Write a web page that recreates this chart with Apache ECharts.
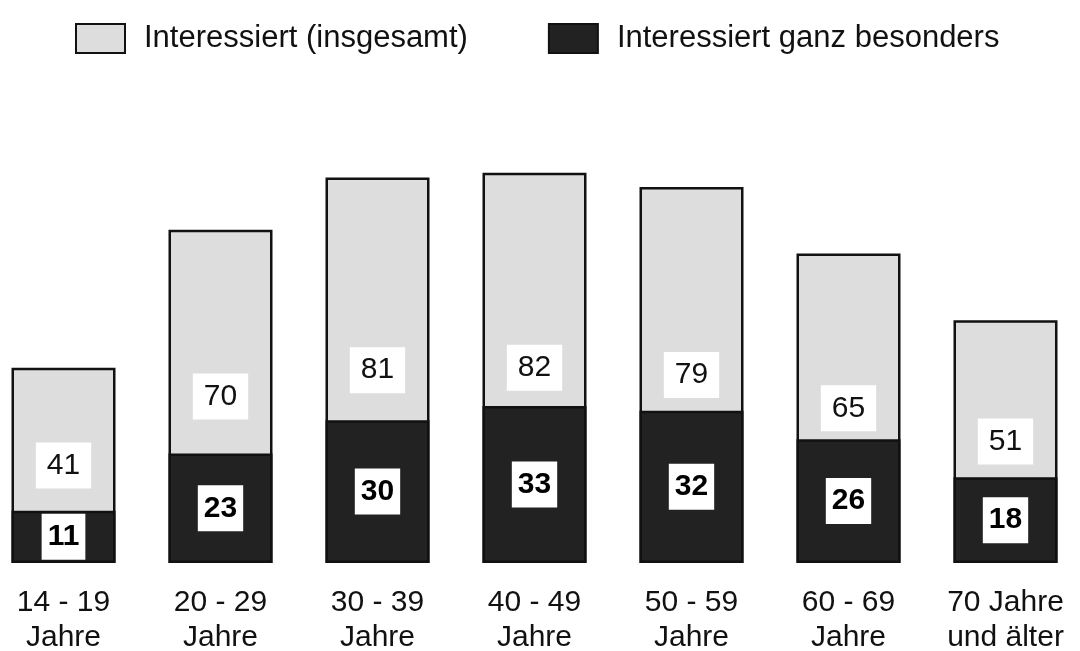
<!DOCTYPE html>
<html>
<head>
<meta charset="utf-8">
<style>
    html, body { margin: 0; padding: 0; background: #fff; }
    #main { width: 1080px; height: 651px; }
</style>
</head>
<body>
    <!-- Diagramm-Container -->
    <div id="main"></div>
<script src="https://cdn.jsdelivr.net/npm/echarts@6/dist/echarts.min.js"></script>
<script type="text/javascript">
    var categories = ['14 - 19\nJahre', '20 - 29\nJahre', '30 - 39\nJahre', '40 - 49\nJahre',
                      '50 - 59\nJahre', '60 - 69\nJahre', '70 Jahre\nund älter'];
    var insgesamt = [41, 70, 81, 82, 79, 65, 51];
    var besonders = [11, 23, 30, 33, 32, 26, 18];

    var myChart = echarts.init(document.getElementById('main'));
    var fontFamily = '"Liberation Sans", Arial, sans-serif';

    var option = {
        animation: false,
        textStyle: { fontFamily: fontFamily },
        legend: {
            top: 18,
            left: 70,
            icon: 'rect',
            itemWidth: 49,
            itemHeight: 29,
            itemGap: 80,
            textStyle: { fontSize: 31, color: '#111', fontFamily: fontFamily, padding: [0, 0, 0, 14] },
            data: ['Interessiert (insgesamt)', 'Interessiert ganz besonders']
        },
        grid: { left: -15, right: -4, top: 87, bottom: 88, outerBoundsMode: 'none', containLabel: false },
        xAxis: {
            type: 'category',
            data: categories,
            axisLine: { show: false },
            axisTick: { show: false },
            axisLabel: {
                margin: 22,
                fontSize: 30,
                lineHeight: 35,
                color: '#111',
                fontFamily: fontFamily
            }
        },
        yAxis: {
            type: 'value',
            min: 0,
            max: 100,
            show: false
        },
        series: [{
            name: 'Interessiert (insgesamt)',
            type: 'bar',
            data: insgesamt,
            barWidth: 104,
            itemStyle: { color: '#dddddd', borderColor: '#111', borderWidth: 2.5 },
            label: {
                show: true,
                position: 'inside',
                fontSize: 30,
                color: '#111',
                backgroundColor: '#fff',
                padding: [8, 11, 8, 11],
                fontFamily: fontFamily
            }
        }, {
            name: 'Interessiert ganz besonders',
            type: 'bar',
            data: besonders,
            barWidth: 104,
            barGap: '-100%',
            itemStyle: { color: '#222222', borderColor: '#111', borderWidth: 2.5 },
            label: {
                show: true,
                position: 'inside',
                fontSize: 30,
                fontWeight: 'bold',
                color: '#000',
                backgroundColor: '#fff',
                padding: [8, 6, 8, 6],
                fontFamily: fontFamily
            }
        }]
    };

    myChart.setOption(option);
</script>
</body>
</html>
